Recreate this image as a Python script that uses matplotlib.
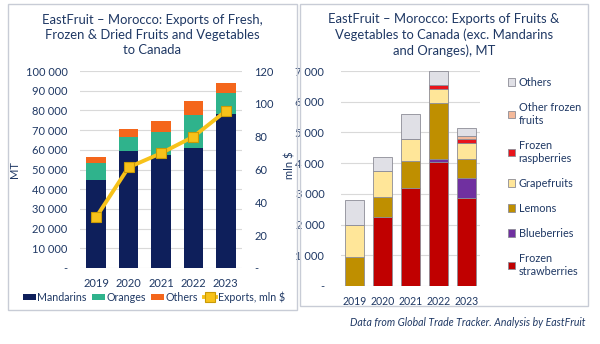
import numpy as np
import matplotlib.pyplot as plt
from matplotlib.patches import Rectangle
from matplotlib.ticker import FuncFormatter

plt.rcParams['font.family'] = ['Lato', 'DejaVu Sans']

navy = '#1F3864'

years = ['2019', '2020', '2021', '2022', '2023']

# left chart, MT
mandarins = [44500, 59500, 57500, 60800, 78000]
oranges = [9000, 6800, 11700, 17000, 10700]
others_l = [2800, 4500, 5400, 7100, 5100]
# exports, mln $
exports = [31, 61.3, 69.9, 80, 95.6]

# right chart, MT (bottom to top)
strawberries = [0, 2250, 3200, 4040, 2870]
blueberries = [0, 0, 0, 100, 650]
lemons = [940, 660, 880, 1810, 600]
grapefruits = [1030, 830, 720, 480, 520]
raspberries = [0, 0, 0, 120, 150]
other_frozen = [0, 0, 0, 0, 90]
others_r = [840, 460, 790, 440, 270]


def thousands(v, pos):
    if v == 0:
        return '-'
    return '{:,.0f}'.format(v).replace(',', ' ')


fig = plt.figure(figsize=(6, 3.44), dpi=100)

# panel frames
for x0, w, y0, h in [(8, 289, 4, 306), (300, 288, 4, 302)]:
    fig.patches.append(Rectangle((x0 / 600, 1 - (y0 + h) / 344), w / 600, h / 344,
                                 transform=fig.transFigure, fill=False,
                                 edgecolor='#C8CCD6', linewidth=1.0))

# ---------------- left chart ----------------
ax = fig.add_axes([80 / 600, 1 - 268 / 344, 162 / 600, 197 / 344])
x = np.arange(len(years))
w = 0.6
c_mand, c_or, c_oth, c_line = '#0E1F5B', '#2FB38C', '#F4661B', '#F7C21A'
ax.bar(x, mandarins, w, color=c_mand, label='Mandarins', zorder=2)
ax.bar(x, oranges, w, bottom=mandarins, color=c_or, label='Oranges', zorder=2)
bot = np.array(mandarins) + np.array(oranges)
ax.bar(x, others_l, w, bottom=bot, color=c_oth, label='Others', zorder=2)
ax.set_xlim(-0.5, 4.5)
ax.set_ylim(0, 100000)
ax.set_yticks(np.arange(0, 100001, 10000))
ax.yaxis.set_major_formatter(FuncFormatter(thousands))
ax.set_xticks(x)
ax.set_xticklabels(years)
ax.grid(axis='y', color='#D9D9D9', linewidth=0.8, zorder=0)
for s in ax.spines.values():
    s.set_visible(False)
ax.tick_params(length=0, labelsize=8, labelcolor=navy, pad=9)
ax.tick_params(axis='x', labelsize=8, pad=7)
ax.set_ylabel('MT', color=navy, fontsize=8)
ax.yaxis.set_label_coords(-0.37, 0.5)

ax2 = ax.twinx()
ln, = ax2.plot(x, exports, color=c_line, linewidth=2.8, marker='s', markersize=6.5,
               markerfacecolor=c_line, markeredgecolor='#C99A06',
               markeredgewidth=0.8, label='Exports, mln $', zorder=3)
ax2.set_ylim(0, 120)
ax2.set_yticks(np.arange(0, 121, 20))
ax2.yaxis.set_major_formatter(FuncFormatter(thousands))
for s in ax2.spines.values():
    s.set_visible(False)
ax2.tick_params(length=0, labelsize=8, labelcolor=navy, pad=9)
ax2.set_ylabel('mln $', color=navy, fontsize=8, rotation=90)
ax2.yaxis.set_label_coords(1.26, 0.52)

fig.text(152 / 600, 1 - 35 / 344,
         'EastFruit \u2013 Morocco: Exports of Fresh,\nFrozen & Dried Fruits and Vegetables\nto Canada',
         ha='center', va='center', color=navy, fontsize=9.4, linespacing=1.35)

h1, l1 = ax.get_legend_handles_labels()
fig.legend(h1 + [ln], l1 + ['Exports, mln $'], loc='center',
           bbox_to_anchor=(154 / 600, 1 - 297 / 344), ncol=4, frameon=False,
           fontsize=7.7, labelcolor=navy, handlelength=1.2, handleheight=0.55,
           handletextpad=0.15, columnspacing=0.5)

# ---------------- right chart ----------------
bx = fig.add_axes([341 / 600, 1 - 286 / 344, 139 / 600, 215 / 344])
w2 = 0.68
series = [
    (strawberries, '#C00000', 'Frozen\nstrawberries'),
    (blueberries, '#7030A0', 'Blueberries'),
    (lemons, '#BF8F00', 'Lemons'),
    (grapefruits, '#FFE699', 'Grapefruits'),
    (raspberries, '#E8141B', 'Frozen\nraspberries'),
    (other_frozen, '#F4B99A', 'Other frozen\nfruits'),
    (others_r, '#E0E0E6', 'Others'),
]
bottom = np.zeros(len(years))
for vals, col, lab in series:
    bx.bar(x, vals, w2, bottom=bottom, color=col, edgecolor='#8C8C96',
           linewidth=0.6, label=lab, zorder=2)
    bottom += np.array(vals)
bx.set_xlim(-0.5, 4.5)
bx.set_ylim(0, 7000)
bx.set_yticks(np.arange(0, 7001, 1000))
bx.yaxis.set_major_formatter(FuncFormatter(thousands))
bx.set_xticks(x)
bx.set_xticklabels(years)
bx.grid(axis='y', color='#D9D9D9', linewidth=0.8, zorder=0)
for s in bx.spines.values():
    s.set_visible(False)
bx.tick_params(length=0, labelsize=8, labelcolor=navy, pad=12)
bx.tick_params(axis='x', labelsize=7.6, pad=7)

fig.text(444 / 600, 1 - 35 / 344,
         'EastFruit \u2013 Morocco: Exports of Fruits &\nVegetables to Canada (exc. Mandarins\nand Oranges), MT',
         ha='center', va='center', color=navy, fontsize=9.4, linespacing=1.35)

h2, l2 = bx.get_legend_handles_labels()
bx.legend(h2[::-1], l2[::-1], loc='upper left',
          bbox_to_anchor=(498 / 600, 1 - 67 / 344), bbox_transform=fig.transFigure,
          frameon=False, fontsize=7.8, labelcolor=navy, handlelength=0.7,
          handleheight=0.7, handletextpad=0.3, labelspacing=1.3)

fig.text(585 / 600, 1 - 323 / 344,
         'Data from Global Trade Tracker. Analysis by EastFruit',
         ha='right', va='center', color=navy, fontsize=7.6, style='italic')

fig.savefig('out.png', dpi=100)
